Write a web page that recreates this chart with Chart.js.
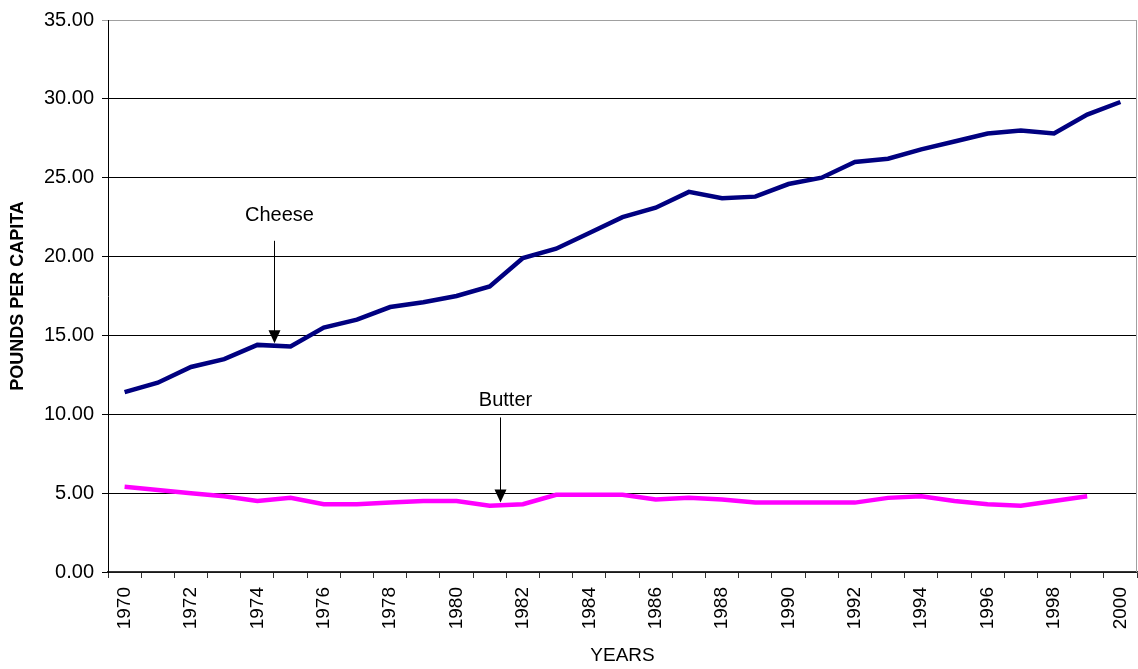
<!DOCTYPE html>
<html>
<head>
<meta charset="utf-8">
<script src="https://cdn.jsdelivr.net/npm/chart.js@4.4.0/dist/chart.umd.min.js"></script>
<style>
html,body{margin:0;padding:0;background:#fff;}
#wrap{width:1138px;height:669px;}
</style>
</head>
<body>
<div id="wrap"><canvas id="c" width="1138" height="669"></canvas></div>
<script>
const years = ['1970','1971','1972','1973','1974','1975','1976','1977','1978','1979','1980','1981','1982','1983','1984','1985','1986','1987','1988','1989','1990','1991','1992','1993','1994','1995','1996','1997','1998','1999','2000'];
const cheese = [11.4,12.0,13.0,13.5,14.4,14.3,15.5,16.0,16.8,17.1,17.5,18.1,19.9,20.5,21.5,22.5,23.1,24.1,23.7,23.8,24.6,25.0,26.0,26.2,26.8,27.3,27.8,28.0,27.8,29.0,29.8];
const butter = [5.4,5.2,5.0,4.8,4.5,4.7,4.3,4.3,4.4,4.5,4.5,4.2,4.3,4.9,4.9,4.9,4.6,4.7,4.6,4.4,4.4,4.4,4.4,4.7,4.8,4.5,4.3,4.2,4.5,4.8,null];
const yTicks = [0,5,10,15,20,25,30,35];
const notes = [
  {text:'Cheese', x:4.5, textY:22.6, fromY:21.0, toY:14.5},
  {text:'Butter', x:11.3, textY:10.9, fromY:9.8, toY:4.4}
];

const annot = {
  id:'annot',
  afterDatasetsDraw(chart){
    const {ctx, chartArea:a, scales:{x,y}} = chart;
    ctx.save();
    ctx.strokeStyle='#a0a0a0'; ctx.lineWidth=1;
    ctx.beginPath(); ctx.moveTo(Math.round(a.right)-0.5,a.top); ctx.lineTo(Math.round(a.right)-0.5,a.bottom); ctx.stroke();
    notes.forEach(n=>{
      const px = Math.round(x.getPixelForValue(n.x))+0.5;
      const y0 = y.getPixelForValue(n.fromY), y1 = y.getPixelForValue(n.toY);
      ctx.strokeStyle='#000'; ctx.fillStyle='#000'; ctx.lineWidth=1;
      ctx.beginPath(); ctx.moveTo(px,y0); ctx.lineTo(px,y1-12); ctx.stroke();
      ctx.beginPath(); ctx.moveTo(px-6,y1-13); ctx.lineTo(px+6,y1-13); ctx.lineTo(px,y1); ctx.closePath(); ctx.fill();
      ctx.font='20px "Liberation Sans", Arial, sans-serif';
      ctx.textAlign='center'; ctx.textBaseline='middle';
      ctx.fillText(n.text, px+5, y.getPixelForValue(n.textY));
    });
    ctx.restore();
  }
};

new Chart(document.getElementById('c'), {
  type:'line',
  data:{
    labels: years,
    datasets:[
      {label:'Cheese', data:cheese, borderColor:'#000080', borderWidth:4.5, pointRadius:0, tension:0, fill:false},
      {label:'Butter', data:butter, borderColor:'#ff00ff', borderWidth:4.5, pointRadius:0, tension:0, fill:false, spanGaps:false}
    ]
  },
  options:{
    responsive:false, animation:false, devicePixelRatio:1,
    layout:{padding:{top:19,right:1,left:0,bottom:0}},
    plugins:{legend:{display:false}, tooltip:{enabled:false}},
    scales:{
      x:{
        type:'category', offset:true,
        grid:{offset:true, drawOnChartArea:false, drawTicks:true, tickLength:6, color:'#333'},
        border:{color:'#333', width:1.5},
        ticks:{
          autoSkip:false, maxRotation:90, minRotation:90, padding:9,
          color:'#000', font:{family:'"Liberation Sans", Arial, sans-serif', size:19},
          callback:function(v,i){ return (i%2===0)? years[i] : ''; }
        },
        title:{display:true, text:'YEARS', color:'#000', padding:{top:2,bottom:2}, font:{family:'"Liberation Sans", Arial, sans-serif', size:19}},
        afterFit(s){ s.height = 97; s.paddingRight = 0; s.paddingLeft = 0; }
      },
      y:{
        min:0, max:35,
        afterBuildTicks(s){ s.ticks = yTicks.map(v=>({value:v})); },
        grid:{color:(c)=> c.tick && c.tick.value===35 ? '#a0a0a0' : '#000', lineWidth:1, drawTicks:true, tickLength:6},
        border:{color:'#000', width:1},
        ticks:{color:'#000', padding:8, font:{family:'"Liberation Sans", Arial, sans-serif', size:20}, callback:(v)=>Number(v).toFixed(2)},
        title:{display:true, text:'POUNDS PER CAPITA', color:'#000', padding:{top:7,bottom:6}, font:{family:'"Liberation Sans", Arial, sans-serif', size:18, weight:'bold'}},
        afterFit(s){ s.width = 108; }
      }
    }
  },
  plugins:[annot]
});
</script>
</body>
</html>
